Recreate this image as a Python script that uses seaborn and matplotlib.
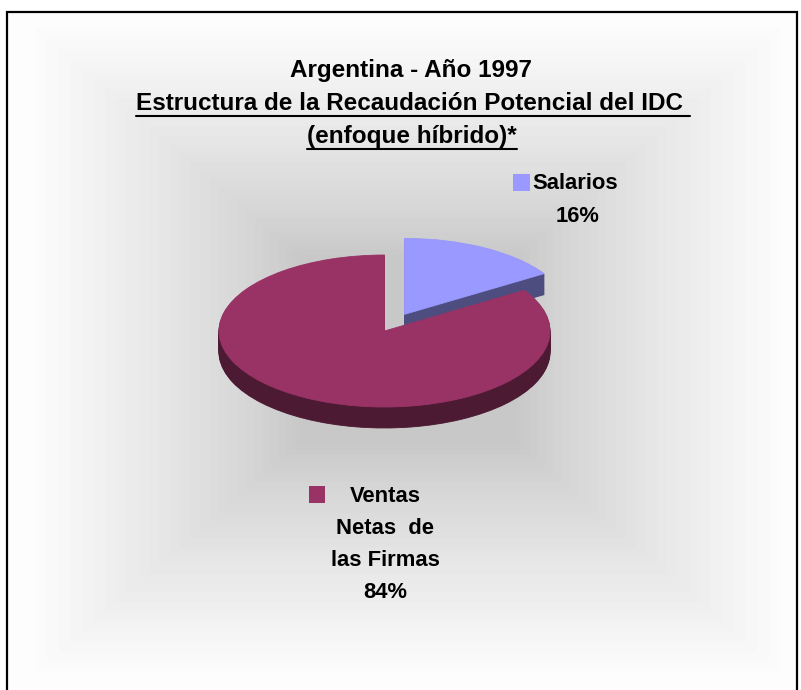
import numpy as np
import matplotlib
matplotlib.use("Agg")
import matplotlib.pyplot as plt
from matplotlib.patches import Rectangle
from matplotlib.lines import Line2D
import seaborn as sns

# ---------------- data ----------------
title_lines = ["Argentina - Año 1997",
               "Estructura de la Recaudación Potencial del IDC ",
               "(enfoque híbrido)*"]
categories = ["Salarios", "Ventas Netas de las Firmas"]
values = [16, 84]
pct_labels = ["16%", "84%"]
salarios_label_lines = ["Salarios", "16%"]
ventas_label_lines = ["Ventas", "Netas  de", "las Firmas", "84%"]
top_colors = ["#9999FF", "#993366"]
side_colors = ["#4D4D80", "#4D1A33"]
explode = [0.25, 0.0]

# ---------------- style ----------------
sns.set_style("white")
plt.rcParams['font.family'] = ['Liberation Sans', 'DejaVu Sans']
plt.rcParams['text.color'] = 'black'

W, H = 801, 690
fig = plt.figure(figsize=(W / 100, H / 100), dpi=100)
fig.patch.set_facecolor("white")


def fx(x):
    return x / W


def fy(y):
    return 1 - y / H


# ---------------- gradient background ----------------
bg = fig.add_axes([0, 0, 1, 1], zorder=0)
xx, yy = np.meshgrid(np.arange(W) + 0.5, np.arange(H) + 0.5)
cx, cy, hw, hh = 408, 350, 392, 338
t = np.maximum(np.abs(xx - cx) / hw, np.abs(yy - cy) / hh)
s = np.clip((t - 0.27) / 0.68, 0, 1) ** 0.8
s = np.floor(s * 28) / 28
g = 200 + 53 * s
g[(xx < 7) | (yy < 12) | (xx > 797)] = 255
img = np.dstack([g, g, g]) / 255.0
bg.imshow(img, extent=(0, W, H, 0), aspect='auto', interpolation='nearest')
bg.set_xlim(0, W)
bg.set_ylim(H, 0)
bg.axis('off')

# border
fig.add_artist(Rectangle((fx(7), -0.05), fx(797) - fx(7), fy(12) + 0.05,
                         fill=False, edgecolor='black', linewidth=1.6,
                         transform=fig.transFigure, zorder=5))

# ---------------- 3D pie ----------------
pcx, pcy, a, b = 384.5, 331, 165.5, 76
lim = 1.5
ax = fig.add_axes([fx(pcx - lim * a), fy(pcy + lim * b),
                   2 * lim * a / W, 2 * lim * b / H], zorder=2)
ax.set_facecolor('none')
depth = 21.0 / b
n_layers = 24
for k in range(n_layers):
    dy = depth * (1 - k / n_layers)
    ax.pie(values, explode=explode, colors=side_colors, startangle=90,
           counterclock=False, center=(0, -dy),
           wedgeprops=dict(linewidth=0.6))
    for w, c in zip(ax.patches[-2:], side_colors):
        w.set_edgecolor(c)
ax.pie(values, explode=explode, colors=top_colors, startangle=90,
       counterclock=False, center=(0, 0),
       wedgeprops=dict(linewidth=0.6))
for w, c in zip(ax.patches[-2:], top_colors):
    w.set_edgecolor(c)
ax.set_aspect('auto')
ax.set_xlim(-lim, lim)
ax.set_ylim(-lim, lim)
ax.axis('off')

# ---------------- title ----------------
title_fs = 17.5
title_x = [411, 413, 412]
title_base = [77, 110, 143]
title_texts = []
for line, x0, y0 in zip(title_lines, title_x, title_base):
    title_texts.append(fig.text(fx(x0), fy(y0), line, ha='center', va='baseline',
                                fontsize=title_fs, fontweight='bold',
                                color='black', zorder=6))

# ---------------- data labels ----------------
lab_fs = 15.8
fig.add_artist(Rectangle((fx(513), fy(191)), 17 / W, 17 / H, facecolor=top_colors[0],
                         edgecolor='none', transform=fig.transFigure, zorder=6))
fig.text(fx(532), fy(189), salarios_label_lines[0], ha='left', va='baseline',
         fontsize=lab_fs, fontweight='bold', color='black', zorder=6)
fig.text(fx(578), fy(222), salarios_label_lines[1], ha='center', va='baseline',
         fontsize=lab_fs, fontweight='bold', color='black', zorder=6)

fig.add_artist(Rectangle((fx(309), fy(503)), 16 / W, 17 / H, facecolor=top_colors[1],
                         edgecolor='none', transform=fig.transFigure, zorder=6))
for line, y0 in zip(ventas_label_lines, [502, 534, 566, 598]):
    fig.text(fx(385), fy(y0), line, ha='center', va='baseline',
             fontsize=lab_fs, fontweight='bold', color='black', zorder=6)

# ---------------- underlines ----------------
fig.canvas.draw()
renderer = fig.canvas.get_renderer()
for txt, y0 in zip(title_texts[1:], title_base[1:]):
    bb = txt.get_window_extent(renderer)
    yline = fy(y0 + 6)
    fig.add_artist(Line2D([bb.x0 / W, bb.x1 / W], [yline, yline], color='black',
                          linewidth=1.5, transform=fig.transFigure, zorder=6))

fig.savefig("out.png", dpi=100)
